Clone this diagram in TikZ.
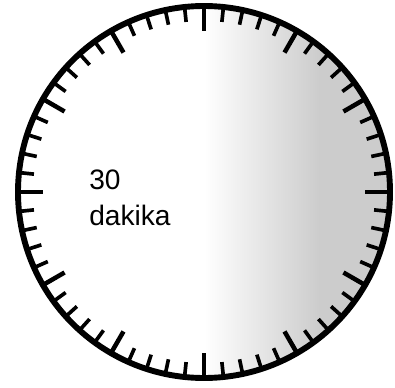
\documentclass[tikz,border=0pt]{standalone}
\usepackage{fontspec}
\setmainfont{Liberation Sans}
\begin{document}
\begin{tikzpicture}[x=0.025cm,y=-0.025cm,
    tacca/.style={line width=2.6pt},
    taccalunga/.style={line width=3.2pt}]
  \useasboundingbox (0,0) rectangle (395,388);
  \coordinate (c) at (204,192);
  % Ombra
  \begin{scope}
    \clip (c) circle (186);
    \shade[left color=white, right color=black!20] (204,0) rectangle (320,388);
    \fill[black!20] (319,0) rectangle (395,388);
  \end{scope}
  % Quadrante
  \draw[line width=4.2pt] (c) circle (186);
  % Tacche
  \foreach \i in {0,...,59}
    \draw[tacca] ([shift={(\i*6:186)}]c) -- ([shift={(\i*6:171)}]c);
  \foreach \i in {0,5,...,55}
    \draw[taccalunga] ([shift={(\i*6:186)}]c) -- ([shift={(\i*6:161)}]c);
  % Testo
  \node[anchor=west, inner sep=0pt, align=left, font=\fontsize{20}{25.5}\selectfont]
    (testo) at (89,198) {30\\dakika};
\end{tikzpicture}
\end{document}
